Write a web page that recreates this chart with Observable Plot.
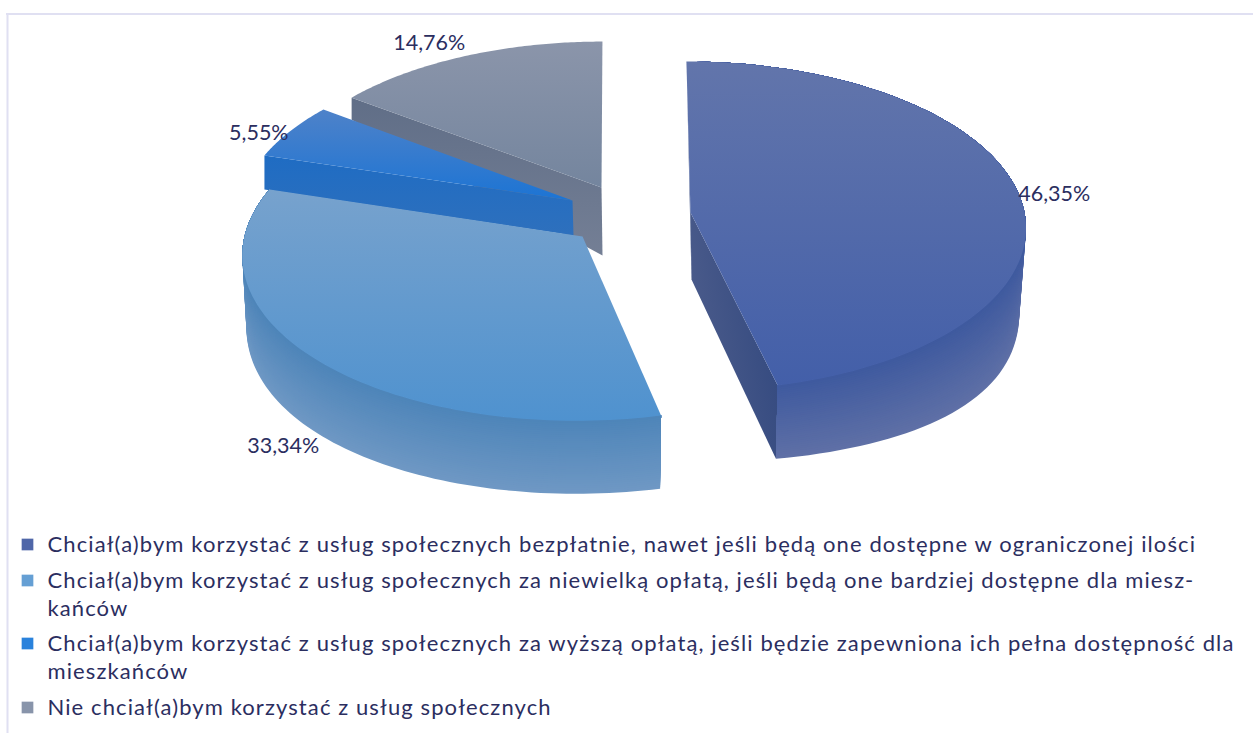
<!DOCTYPE html>
<html><head><meta charset="utf-8">
<script src="https://cdn.jsdelivr.net/npm/d3@7"></script>
<script src="https://cdn.jsdelivr.net/npm/@observablehq/plot@0.6"></script>
<style>html,body{margin:0;padding:0;background:#fff;overflow:hidden}svg{display:block}</style>
</head><body><div id="chart"></div>
<script>
const categories = [
  "Chciał(a)bym korzystać z usług społecznych bezpłatnie, nawet jeśli będą one dostępne w ograniczonej ilości",
  "Chciał(a)bym korzystać z usług społecznych za niewielką opłatą, jeśli będą one bardziej dostępne dla miesz-\nkańców",
  "Chciał(a)bym korzystać z usług społecznych za wyższą opłatą, jeśli będzie zapewniona ich pełna dostępność dla\nmieszkańców",
  "Nie chciał(a)bym korzystać z usług społecznych"
];
const values = [46.35, 33.34, 5.55, 14.76];
const swatches = ["#4f66a8", "#659fd4", "#2a82dc", "#8894aa"];

// Projection of each exploded slice: centre, radii, perspective, skew, thickness.
const views = [
  {cx:690, cy:212, a:334, b:163.4, p:.082, sx:-4.4, shrink:.98, dApex:67, rim:[72,82,0], label:[3,2], cuts:[0,1], wall:["#3f5a9f","#5f70a6"]},
  {cx:582, cy:236, a:338, b:166.5, p:.0965, sx:5.8, shrink:.988, dApex:70, rim:[73,70,40], label:[-2,75], cuts:[], wall:["#4e85b9","#6f98c4"]},
  {cx:572, cy:200, a:331.3, b:158.3, p:.073, sx:8.4, shrink:1, dApex:35, rim:[34,34,34], label:[-4,9], cuts:[0], wall:null},
  {cx:601, cy:187, a:326, b:156, p:.069, sx:1, shrink:1, dApex:68, rim:[22,22,22], label:[-23,-1], cuts:[0], wall:null}
];
const gradients = {
  top0:[0,0,0,1,"#6275ab","#435fa9"], cut0:[1,.3,0,.7,"#33497f","#4d5d8c"],
  top1:[0,0,0,1,"#77a2cd","#4f92cf"],
  top2:[0,0,0,1,"#4e82c9","#1c74d4"], cut2:[0,0,0,1,"#1f6cc3","#2e70bd"],
  top3:[0,0,0,1,"#8b95aa","#74859e"], cut3:[0,0,0,1,"#606e87","#747f95"]
};

const total = d3.sum(values);
let acc = 0;
const slices = values.map((v,i)=>{const t0=acc/total*2*Math.PI; acc+=v; return {i,v,t0,t1:acc/total*2*Math.PI,view:views[i]};});

const rimDepth = (w,c)=>{ // quadratic through v=-1,0,1
  const [m,z,q]=w.rim; const A=(q+m)/2-z, B=(q-m)/2; return z+B*c+A*c*c;
};
function proj(w,t,r,k=0){ // k: 0 on the top face, 1 on the bottom face
  const u=r*Math.sin(t), c=r*Math.cos(t), f=1/(1+w.p*c);
  const s=1+(w.shrink-1)*k;
  let dx=(w.a*u+w.sx*c)*f*s, dy=-w.b*c*f;
  dy+=k*(r===0? w.dApex : rimDepth(w,Math.cos(t)));
  if(r===0) dx+=k;
  return [w.cx+dx, w.cy+dy];
}
const angles=(a,b,n=90)=>d3.range(n+1).map(k=>a+(b-a)*k/n);
const BANDS=36;

function faces(s){
  const w=s.view, out=[];
  const push=(fill,pts)=>out.push({fill,pts:pts.map(([x,y])=>({x,y}))});
  for(const c of w.cuts){
    // cut 0: the face seen from the front; cut 1: the sliver at the slice's other edge
    const edge = s.i===0 ? (c===0?s.t1:s.t0) : s.t0;
    push(`url(#cut${s.i})`,[proj(w,0,0),proj(w,edge,1),proj(w,edge,1,1),proj(w,0,0,1)]);
  }
  if(w.wall){
    const ts=angles(s.t0,s.t1);
    const col=d3.interpolateRgb(w.wall[0],w.wall[1]);
    // painted from the bottom up, each band overlapping the next so no seams show
    for(let b=BANDS-1;b>=0;b--){
      const k1=(b+1)/BANDS;
      push(col((b+.5)/BANDS),[...ts.map(t=>proj(w,t,1,0)),...ts.slice().reverse().map(t=>proj(w,t,1,k1))]);
    }
  }
  push(`url(#top${s.i})`,[proj(w,0,0),...angles(s.t0,s.t1).map(t=>proj(w,t,1))]);
  return out;
}
const order=[3,2,1,0];
const allFaces=order.flatMap(i=>faces(slices[i]));

const defsMark=()=>{
  const ns="http://www.w3.org/2000/svg", defs=document.createElementNS(ns,"defs");
  for(const [id,[x1,y1,x2,y2,c1,c2]] of Object.entries(gradients)){
    const g=document.createElementNS(ns,"linearGradient");
    g.setAttribute("id",id);
    Object.entries({x1,y1,x2,y2}).forEach(([k,v])=>g.setAttribute(k,v));
    [[0,c1],[1,c2]].forEach(([o,c])=>{const st=document.createElementNS(ns,"stop");st.setAttribute("offset",o);st.setAttribute("stop-color",c);g.appendChild(st);});
    defs.appendChild(g);
  }
  return defs;
};

const fmt=v=>v.toFixed(2).replace(".",",")+"%";
const labelRows=slices.map(s=>{
  const [x,y]=proj(s.view,(s.t0+s.t1)/2,1.1);
  return {x:x+s.view.label[0],y:y+s.view.label[1],text:fmt(s.v)};
});

const legendTop=544, rowGap=36, lineGap=28;
let ly=legendTop;
const legendRows=categories.map((c,i)=>{
  const lines=c.split("\n").length;
  const row={y:ly,text:c,swatch:swatches[i],lines};
  ly+=rowGap+(lines-1)*lineGap-(i===1?1:0);
  return row;
});
const spaced=(sp)=>(index,scales,vals,dim,ctx,next)=>{const g=next(index,scales,vals,dim,ctx);g.style.letterSpacing=sp;return g;};

const ink="#2b2e5f";
const chart=Plot.plot({
  width:1253,height:733,margin:0,
  x:{domain:[0,1253],range:[0,1253],axis:null},
  y:{domain:[0,733],range:[0,733],axis:null},
  style:{fontFamily:"Lato, sans-serif",background:"#fff"},
  marks:[
    defsMark,
    Plot.ruleY([13.5],{stroke:"#e0e0f2",strokeWidth:2,x1:6,x2:1253}),
    Plot.ruleX([7],{stroke:"#e0e0f2",strokeWidth:2,y1:13,y2:733}),
    ...allFaces.map(f=>Plot.line(f.pts,{x:"x",y:"y",fill:f.fill,stroke:"none",curve:"linear"})),
    Plot.text(labelRows,{x:"x",y:"y",text:"text",fill:ink,fontSize:21.5,textAnchor:"middle"}),
    Plot.dot(legendRows,{x:27,y:"y",symbol:"square",r:6.6,fill:{value:"swatch",scale:null},stroke:null}),
    Plot.text(legendRows,{x:47,y:d=>d.y-1+(d.lines-1)*lineGap/2,text:"text",fill:ink,fontSize:22,textAnchor:"start",lineAnchor:"middle",lineHeight:lineGap/22,lineWidth:Infinity,render:spaced("1.1px")})
  ]
});
document.getElementById("chart").appendChild(chart);
</script></body></html>
